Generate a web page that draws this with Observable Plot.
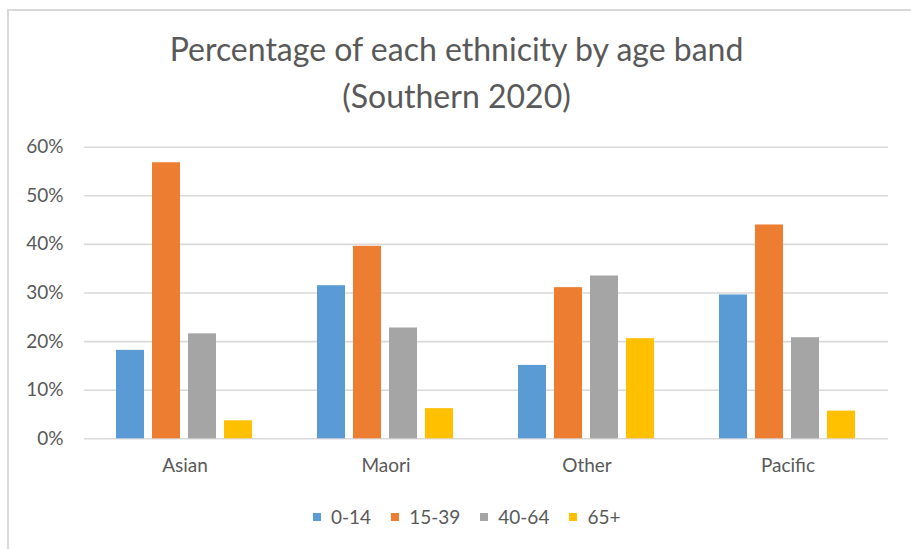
<!DOCTYPE html>
<html>
<head>
<meta charset="utf-8">
<script src="https://cdn.jsdelivr.net/npm/d3@7"></script>
<script src="https://cdn.jsdelivr.net/npm/@observablehq/plot@0.6"></script>
<style>
  html, body { margin: 0; padding: 0; background: #fff; }
  body { width: 911px; height: 549px; position: relative; overflow: hidden; font-family: Lato, sans-serif; color: #595959; }
  #frame { position: absolute; left: 7px; top: 9px; width: 920px; height: 560px; border-top: 2px solid #d9d9d9; border-left: 2px solid #d9d9d9; box-sizing: border-box; }
  #title { position: absolute; left: 0; width: 913px; top: 25px; text-align: center; font-size: 32px; line-height: 47px; color: #595959; }
  #chart { position: absolute; left: 0; top: 120px; }
  #legend { position: absolute; top: 505px; left: 313px; display: flex; align-items: center; font-size: 19px; line-height: 24px; }
  .item { display: flex; align-items: center; margin-right: 20px; }
  .sw { width: 8px; height: 8px; margin-right: 10px; }
</style>
</head>
<body>
<div id="frame"></div>
<div id="title">Percentage of each ethnicity by age band<br>(Southern 2020)</div>
<div id="chart"></div>
<div id="legend"></div>
<script>
const ethnicities = ["Asian", "Maori", "Other", "Pacific"];
const ageBands = ["0-14", "15-39", "40-64", "65+"];
const colors = ["#5B9BD5", "#ED7D31", "#A5A5A5", "#FFC000"];
const values_0_14  = [18.2, 31.5, 15.1, 29.6];
const values_15_39 = [56.8, 39.6, 31.1, 44.0];
const values_40_64 = [21.6, 22.8, 33.5, 20.8];
const values_65    = [3.7, 6.2, 20.6, 5.7];
const yTicks = [0, 0.1, 0.2, 0.3, 0.4, 0.5, 0.6];

const series = [values_0_14, values_15_39, values_40_64, values_65];
const data = [];
ethnicities.forEach((e, i) => {
  ageBands.forEach((b, j) => data.push({ethnicity: e, band: b, value: series[j][i] / 100}));
});

const plot = Plot.plot({
  width: 911,
  height: 370,
  marginLeft: 84,
  marginRight: 23,
  marginTop: 26.7,
  marginBottom: 51.7,
  style: {fontFamily: "Lato, sans-serif", fontSize: "19px", color: "#595959", background: "transparent"},
  fx: {domain: ethnicities, padding: 0, label: null},
  x: {domain: ageBands, paddingInner: 0.21, paddingOuter: 0.843, axis: null},
  y: {domain: [0, 0.6], label: null},
  color: {domain: ageBands, range: colors},
  marks: [
    Plot.gridY(yTicks, {stroke: "#d9d9d9", strokeOpacity: 1, strokeWidth: 1.6}),
    Plot.barY(data, {fx: "ethnicity", x: "band", y: "value", fill: "band"}),
    Plot.axisY(yTicks, {tickSize: 0, tickPadding: 21, tickFormat: d3.format(".0%"), label: null}),
    Plot.axisFx({anchor: "bottom", tickSize: 0, tickPadding: 20, label: null})
  ]
});
document.getElementById("chart").appendChild(plot);

const legend = document.getElementById("legend");
ageBands.forEach((b, i) => {
  const it = document.createElement("div");
  it.className = "item";
  const sw = document.createElement("span");
  sw.className = "sw";
  sw.style.background = colors[i];
  const t = document.createElement("span");
  t.textContent = b;
  it.appendChild(sw); it.appendChild(t);
  legend.appendChild(it);
});
</script>
</body>
</html>
